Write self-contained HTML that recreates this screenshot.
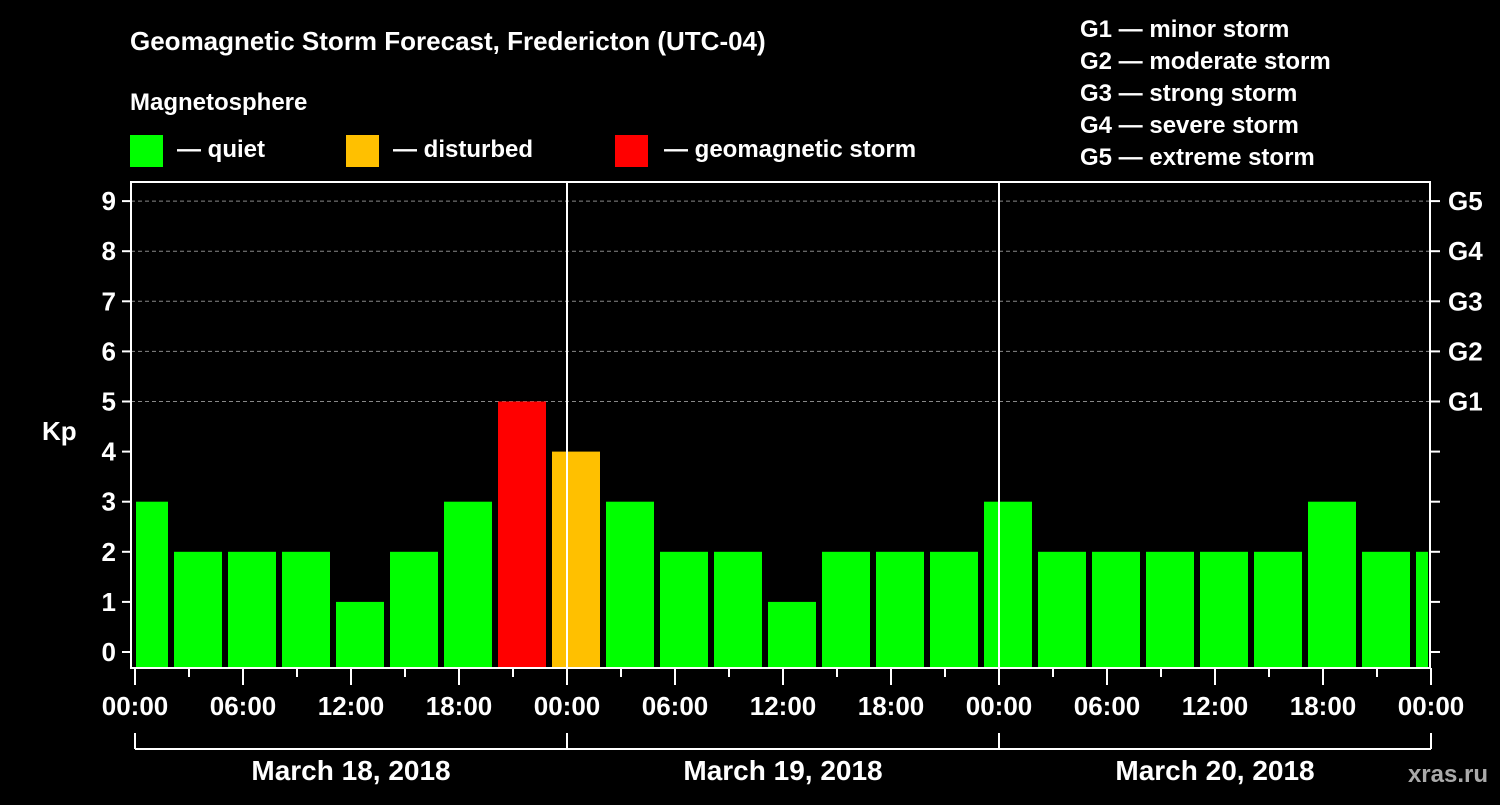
<!DOCTYPE html>
<html><head><meta charset="utf-8"><style>
body{margin:0;background:#000;}
svg text{font-family:"Liberation Sans",Arial,sans-serif;font-weight:bold;fill:#fff;}
</style></head><body>
<svg id="c" width="1500" height="800" viewBox="0 0 1500 800">
<rect width="1500" height="800" fill="#000"/>
<text x="130" y="50" font-size="26">Geomagnetic Storm Forecast, Fredericton (UTC-04)</text>
<text x="130" y="110" font-size="24">Magnetosphere</text>
<rect x="130" y="135" width="33" height="32" fill="#00ff00"/>
<text x="177" y="157" font-size="24">— quiet</text>
<rect x="346" y="135" width="33" height="32" fill="#ffc000"/>
<text x="393" y="157" font-size="24">— disturbed</text>
<rect x="615" y="135" width="33" height="32" fill="#ff0000"/>
<text x="664" y="157" font-size="24">— geomagnetic storm</text>
<g font-size="24">
<text x="1080" y="37">G1 — minor storm</text>
<text x="1080" y="69">G2 — moderate storm</text>
<text x="1080" y="101">G3 — strong storm</text>
<text x="1080" y="133">G4 — severe storm</text>
<text x="1080" y="165">G5 — extreme storm</text>
</g>
<text x="42" y="440" font-size="26">Kp</text>
<text x="1488" y="782" font-size="24" text-anchor="end" fill="#bbb" style="fill:#aaa">xras.ru</text>
<g id="plot"></g>
</svg>
<script>
const kpValues=[3,2,2,2,1,2,3,5,4,3,2,2,1,2,2,2,3,2,2,2,2,2,3,2,2];
const yTicks=[0,1,2,3,4,5,6,7,8,9];
const gLabels=["G1","G2","G3","G4","G5"];
const xTickLabels=["00:00","06:00","12:00","18:00","00:00","06:00","12:00","18:00","00:00","06:00","12:00","18:00","00:00"];
const dayLabels=["March 18, 2018","March 19, 2018","March 20, 2018"];
const NS="http://www.w3.org/2000/svg";
const L=131,R=1430,T=182,B=668,X0=135,PXH=18;
const y=v=>652-v*50.1;
const x=h=>X0+h*PXH;
const g=document.getElementById('plot');
function mk(t,a,p){const e=document.createElementNS(NS,t);for(const k in a)e.setAttribute(k,a[k]);(p||g).appendChild(e);return e;}
// grid
for(let v=5;v<=9;v++){const l=mk('line',{x1:L,x2:R,y1:y(v),y2:y(v),stroke:'#888','stroke-dasharray':'4,3'});

}
// bars
kpValues.forEach((v,i)=>{const c=x(i*3+0.5);let x1=Math.max(c-24,L+5),x2=Math.min(c+24,R-2);
const col=v>=5?'#ff0000':(v>=4?'#ffc000':'#00ff00');
const r=mk('rect',{x:x1,y:y(v),width:x2-x1,height:B-y(v),fill:col});

});
// day separators
[24,48].forEach(h=>{const l=mk('line',{x1:x(h),x2:x(h),y1:T,y2:B,stroke:'#fff','stroke-width':2});

});
const fr=mk('rect',{x:L,y:T,width:R-L,height:B-T,fill:'none',stroke:'#fff','stroke-width':2});


// y ticks
yTicks.forEach(v=>{mk('line',{x1:122,x2:L,y1:y(v),y2:y(v),stroke:'#fff','stroke-width':2});
mk('line',{x1:R,x2:1440,y1:y(v),y2:y(v),stroke:'#fff','stroke-width':2});
const t=mk('text',{x:116,y:y(v)+9,'font-size':26,'text-anchor':'end'});t.textContent=v;

});
gLabels.forEach((s,i)=>{const t=mk('text',{x:1448,y:y(5+i)+9,'font-size':26});t.textContent=s;

});
// x ticks
for(let h=0;h<=72;h+=3){const maj=h%6==0;mk('line',{x1:x(h),x2:x(h),y1:B,y2:maj?685:677,stroke:'#fff','stroke-width':2});}
xTickLabels.forEach((s,i)=>{const t=mk('text',{x:x(i*6),y:715,'font-size':26,'text-anchor':'middle'});t.textContent=s;

});
mk('line',{x1:x(0),x2:x(72),y1:749,y2:749,stroke:'#fff','stroke-width':2});
[0,24,48,72].forEach(h=>mk('line',{x1:x(h),x2:x(h),y1:733,y2:749,stroke:'#fff','stroke-width':2}));
dayLabels.forEach((s,i)=>{const t=mk('text',{x:x(i*24+12),y:780,'font-size':28,'text-anchor':'middle'});t.textContent=s;

});
</script>
</body></html>
